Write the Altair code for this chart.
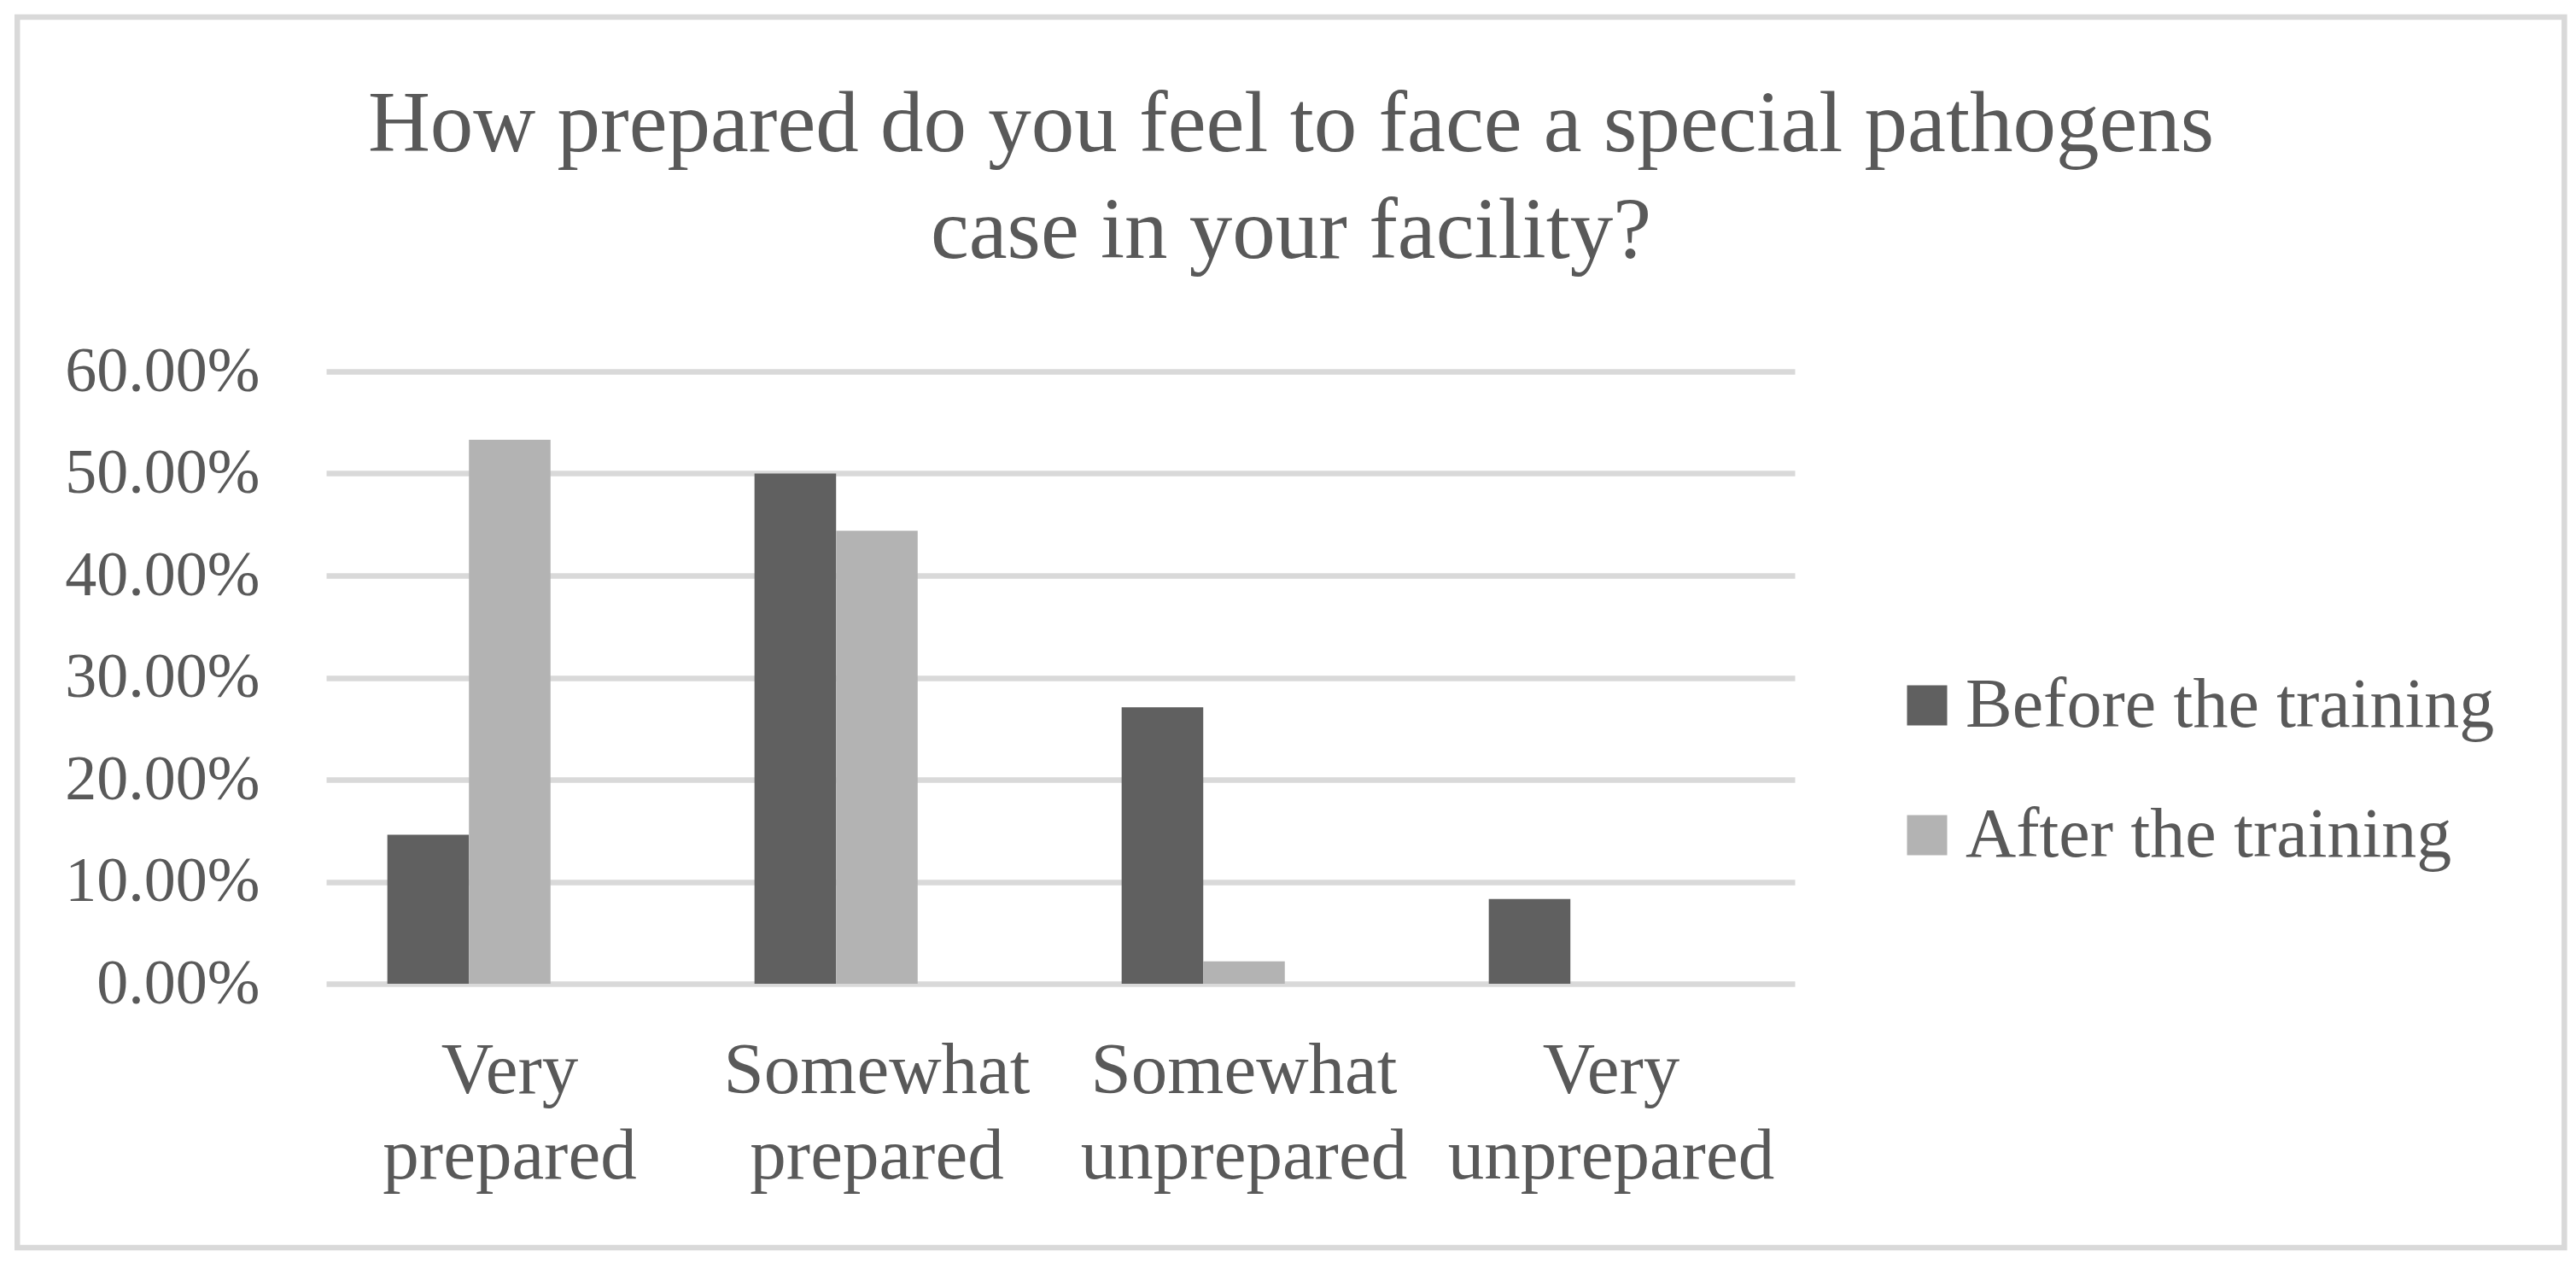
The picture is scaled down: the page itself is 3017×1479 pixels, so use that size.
import altair as alt
import pandas as pd

# ---- data ----
categories = ["Very prepared", "Somewhat prepared", "Somewhat unprepared", "Very unprepared"]
series = ["Before the training", "After the training"]
before_values = [0.146, 0.500, 0.271, 0.083]
after_values = [0.533, 0.444, 0.022, 0.0]
y_ticks = [0.0, 0.1, 0.2, 0.3, 0.4, 0.5, 0.6]
title_lines = ["How prepared do you feel to face a special pathogens", "case in your facility?"]
series_colors = ["#606060", "#b3b3b3"]

rows = []
for c, b, a in zip(categories, before_values, after_values):
    rows.append({"category": c, "series": series[0], "value": b})
    rows.append({"category": c, "series": series[1], "value": a})
df = pd.DataFrame(rows)

W, H = 1720, 717
FONT = "Liberation Serif"
TEXT = "#595959"
GRID = "#d9d9d9"

bars = alt.Chart(df).mark_bar().encode(
    x=alt.X(
        "category:N", sort=categories, title=None,
        scale=alt.Scale(paddingInner=1 / 3, paddingOuter=1 / 6),
        axis=alt.Axis(labelAngle=0, domain=False, ticks=False, labelPadding=60,
                      labelFontSize=85, labelLineHeight=100,
                      labelExpr="split(datum.label, ' ')", labelColor=TEXT,
                      labelFont=FONT, labelLimit=1000),
    ),
    xOffset=alt.XOffset("series:N", sort=series,
                        scale=alt.Scale(domain=series + ["(blank)"], paddingInner=0, paddingOuter=0)),
    y=alt.Y(
        "value:Q", title=None,
        scale=alt.Scale(domain=[0, 0.6], nice=False, zero=True),
        axis=alt.Axis(values=y_ticks, format=".2%", domain=False, ticks=False,
                      gridColor=GRID, gridWidth=6.5, labelPadding=78,
                      labelFontSize=74, labelColor=TEXT, labelFont=FONT,
                      labelLimit=1000),
    ),
    color=alt.Color(
        "series:N", sort=series,
        scale=alt.Scale(domain=series, range=series_colors),
        legend=alt.Legend(title=None, orient="none", legendX=1834, legendY=350,
                          symbolType="square", symbolSize=2209, symbolStrokeWidth=0,
                          labelFontSize=82, labelColor=TEXT, labelFont=FONT,
                          labelOffset=4, rowPadding=70, padding=0, labelLimit=1000),
    ),
)

# chart border (decoration)
frame_df = pd.DataFrame({"k": [0]})
frame = alt.Chart(frame_df).mark_rect(filled=False, stroke=GRID, strokeWidth=6.5).encode(
    x=alt.value(-361.75), x2=alt.value(2621.35), y=alt.value(-415), y2=alt.value(1026)
)

# chart title, as a two-line text centred on the whole chart
title_df = pd.DataFrame({"t": ["\n".join(title_lines)]})
title = alt.Chart(title_df).mark_text(
    font=FONT, fontSize=101, color=TEXT, align="center", baseline="alphabetic",
    lineBreak="\n", lineHeight=125,
).encode(text="t:N", x=alt.value(1130), y=alt.value(-257.6))

chart = alt.layer(frame, title, bars).properties(
    width=W, height=H,
    padding={"left": 9, "top": 8, "right": 0, "bottom": 0},
).configure(background="white").configure_view(stroke="transparent")

chart.save("out.html", embed_options={"renderer": "svg", "actions": False})
